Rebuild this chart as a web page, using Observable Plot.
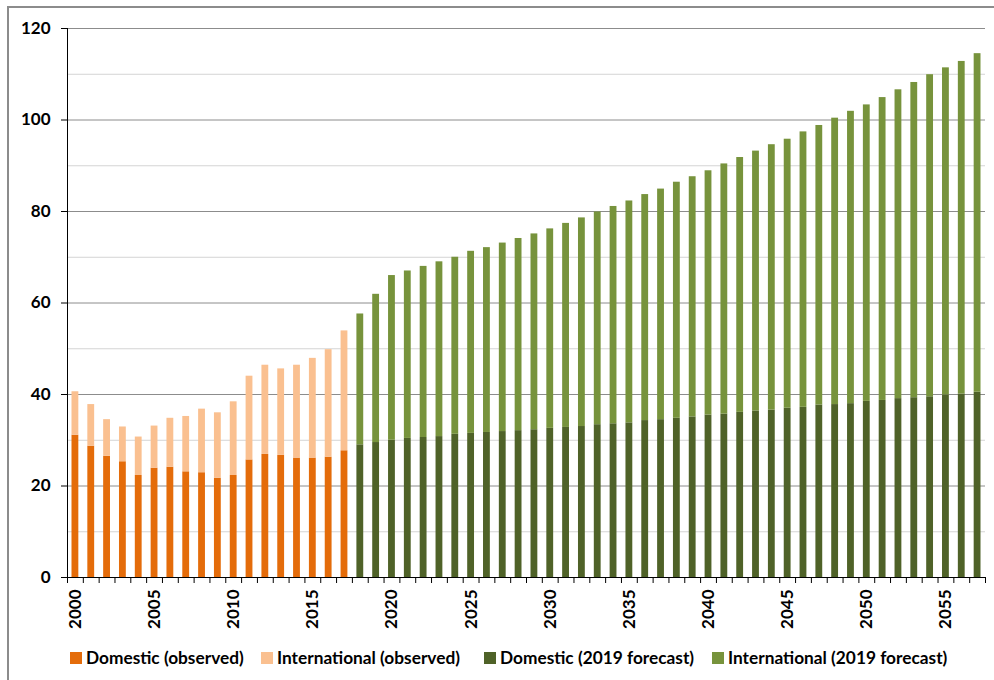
<!DOCTYPE html>
<html>
<head>
<meta charset="utf-8">
<script src="https://cdn.jsdelivr.net/npm/d3@7"></script>
<script src="https://cdn.jsdelivr.net/npm/@observablehq/plot@0.6"></script>
<style>
  html, body { margin: 0; padding: 0; background: #fff; overflow: hidden; }
  #frame { position: absolute; left: 7px; top: 6px; width: 1000px; height: 700px; border: 2px solid #8c8c8c; box-sizing: border-box; }
  #chart { position: absolute; left: 0; top: 0; }
  #legend { position: absolute; left: 0; top: 647px; width: 994px; height: 24px;
            font-family: Lato, sans-serif; font-weight: bold; font-size: 17.3px; color: #000; white-space: nowrap; }
  .item { position: absolute; top: 0; display: flex; align-items: center; }
  .sw { width: 12px; height: 12px; margin-right: 4px; }
  .item:nth-child(1) { left: 70px; }
  .item:nth-child(2) { left: 261px; }
  .item:nth-child(3) { left: 484px; }
  .item:nth-child(4) { left: 712px; }
</style>
</head>
<body>
<div id="frame"></div>
<div id="chart"></div>
<div id="legend"></div>
<script>
// series names and colours
const series = ["Domestic (observed)", "International (observed)", "Domestic (2019 forecast)", "International (2019 forecast)"]
const colors = ["#e46c0a", "#fac090", "#4f6228", "#77933c"]

// observed 2000-2017
const observedYears = d3.range(2000, 2018)
const domesticObserved = [31.1, 28.7, 26.5, 25.3, 22.3, 23.9, 24.1, 23.1, 22.9, 21.7, 22.3, 25.7, 26.9, 26.7, 26.1, 26.1, 26.3, 27.7]
const totalObserved = [40.6, 37.8, 34.5, 32.9, 30.7, 33.1, 34.8, 35.2, 36.8, 36.0, 38.4, 44.0, 46.4, 45.6, 46.4, 47.9, 49.8, 53.9]

// forecast 2018-2057
const forecastYears = d3.range(2018, 2058)
const domesticForecast = [29.0, 29.5, 30.0, 30.4, 30.6, 30.8, 31.3, 31.5, 31.7, 31.9, 32.1, 32.3, 32.6, 32.8, 33.0, 33.4, 33.6, 33.8, 34.3, 34.5, 34.8, 35.1,
  35.5, 35.7, 36.1, 36.4, 36.6, 37.0, 37.2, 37.7, 37.8, 38.0, 38.5, 38.7, 39.1, 39.3, 39.5, 39.9, 40.1, 40.5]
const totalForecast = [57.6, 61.9, 66.0, 67.0, 68.0, 69.0, 70.0, 71.3, 72.1, 73.1, 74.1, 75.1, 76.2, 77.4, 78.6, 79.9, 81.1, 82.3, 83.7, 84.9, 86.4, 87.6,
  88.9, 90.4, 91.8, 93.2, 94.6, 95.8, 97.4, 98.8, 100.4, 101.9, 103.3, 104.9, 106.6, 108.2, 109.9, 111.4, 112.8, 114.5]

// axis ticks
const majorTicks = [0, 20, 40, 60, 80, 100, 120]
const minorTicks = [10, 30, 50, 70, 90, 110]
const labelYears = [2000, 2005, 2010, 2015, 2020, 2025, 2030, 2035, 2040, 2045, 2050, 2055]
const boundaries = d3.range(2000, 2059)

let rows = []
observedYears.forEach((yr, i) => {
  rows.push({year: yr, series: series[0], value: domesticObserved[i]})
  rows.push({year: yr, series: series[1], value: +(totalObserved[i] - domesticObserved[i]).toFixed(1)})
})
forecastYears.forEach((yr, i) => {
  rows.push({year: yr, series: series[2], value: domesticForecast[i]})
  rows.push({year: yr, series: series[3], value: +(totalForecast[i] - domesticForecast[i]).toFixed(1)})
})

let chart = Plot.plot({
  width: 994,
  height: 640,
  marginLeft: 67,
  marginRight: 9,
  marginTop: 28,
  marginBottom: 63,
  x: {domain: [2000, 2058]},
  y: {domain: [0, 120]},
  color: {domain: series, range: colors},
  style: {
    fontFamily: 'Lato, sans-serif',
    fontSize: '17px',
    fontWeight: 'bold',
    color: '#000',
    background: 'transparent',
    overflow: 'visible'
  },
  marks: [
    Plot.ruleY(minorTicks, {stroke: '#d4d4d4', strokeWidth: 1}),
    Plot.ruleY(majorTicks, {stroke: '#8c8c8c', strokeWidth: 1}),
    Plot.rectY(rows, {x: 'year', interval: 1, y: 'value', fill: 'series', insetLeft: 4.5, insetRight: 4.5}),
    Plot.ruleX([2000], {stroke: '#000'}),
    Plot.ruleY([0], {stroke: '#000'}),
    Plot.axisY({ticks: majorTicks, tickSize: 6, tickPadding: 11, label: null, stroke: '#000', fontSize: 17}),
    Plot.axisX({ticks: boundaries, tickSize: 6, tickFormat: () => '', label: null, stroke: '#000'}),
    Plot.axisX({ticks: labelYears.map(d => d + 0.5), tickSize: 0, tickPadding: 12, tickRotate: -90,
      tickFormat: d => String(d - 0.5), label: null, fontSize: 17})
  ]
})
d3.select('#chart').append(() => chart)

// legend below the chart
const legend = d3.select('#legend')
series.forEach((s, i) => {
  const item = legend.append('div').attr('class', 'item')
  item.append('div').attr('class', 'sw').style('background', colors[i])
  item.append('span').text(s)
})
</script>
</body>
</html>
